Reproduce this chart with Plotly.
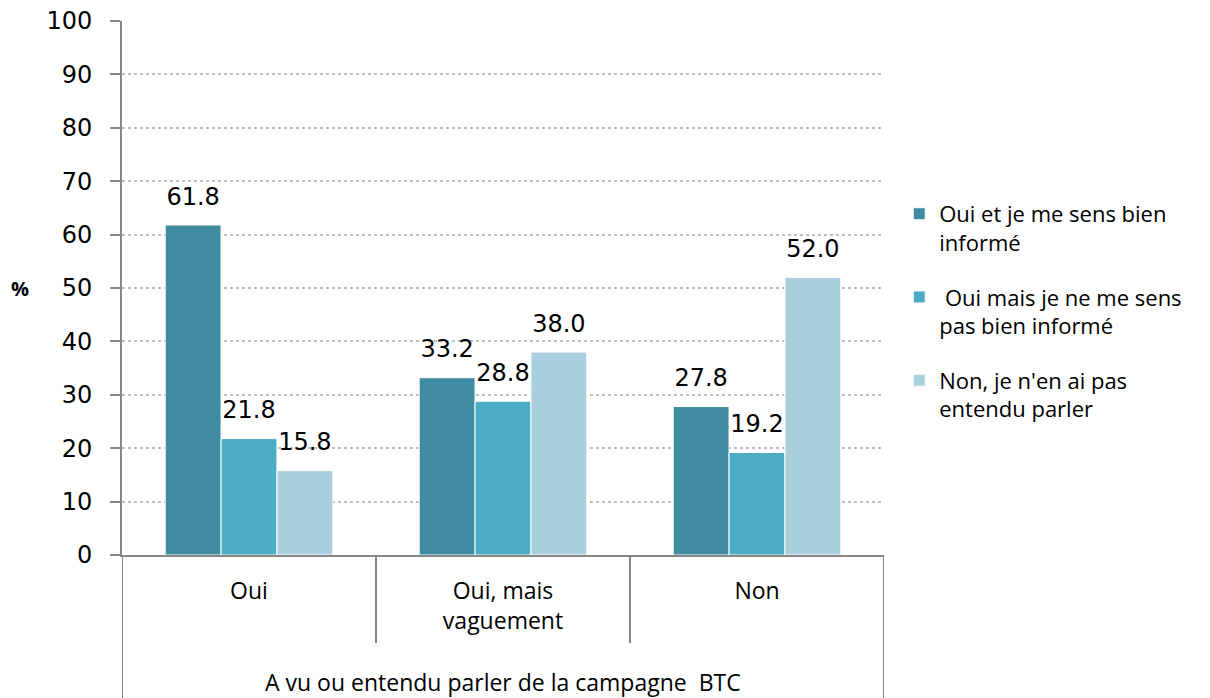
import plotly.graph_objects as go

CATEGORIES = ["Oui", "Oui, mais<br>vaguement", "Non"]
OUTER_LABEL = "A vu ou entendu parler de la campagne  BTC"

SERIES_NAMES = [
    "Oui et je me sens bien<br>informé",
    " Oui mais je ne me sens<br>pas bien informé",
    "Non, je n'en ai pas<br>entendu parler",
]
SERIES_VALUES = [
    [61.8, 33.2, 27.8],
    [21.8, 28.8, 19.2],
    [15.8, 38.0, 52.0],
]
COLORS = ["#3E8BA2", "#4BACC6", "#A9CFDC"]

Y_TICKS = list(range(0, 101, 10))

AXIS_GREY = "#868686"
TEXT_FONT = "Open Sans"
NUM_FONT = "DejaVu Sans"

fig = go.Figure()

for i, (name, values) in enumerate(zip(SERIES_NAMES, SERIES_VALUES)):
    fig.add_trace(go.Bar(
        x=CATEGORIES,
        y=values,
        name=name,
        legendgroup=f"g{i}",
        marker=dict(color=COLORS[i], line=dict(color="white", width=1)),
        text=[f"{v:.1f}" for v in values],
        # small trailing line lifts the label off the bar, like Excel does
        texttemplate="<span style='font-size:24px'>%{text}</span><br> ",
        textposition="outside",
        constraintext="none",
        textfont=dict(family=NUM_FONT, size=11, color="#000000"),
        cliponaxis=False,
    ))

# category dividers, Excel style
line_style = dict(color=AXIS_GREY, width=2)
for x0, bottom in [(-0.5, -0.27), (0.5, -0.165), (1.5, -0.165), (2.5, -0.27)]:
    fig.add_shape(type="line", xref="x", yref="paper",
                  x0=x0, x1=x0, y0=0, y1=bottom, line=line_style)

fig.add_annotation(text=OUTER_LABEL, xref="paper", yref="paper",
                   x=0.5, y=-0.237, showarrow=False, yanchor="middle",
                   font=dict(family=TEXT_FONT, size=23, color="#000000"))

fig.add_annotation(text="<b>%</b>", xref="paper", yref="paper",
                   x=-0.134, y=0.5, showarrow=False,
                   xanchor="center", yanchor="middle",
                   font=dict(family=TEXT_FONT, size=20, color="#000000"))

# page body has an 8px margin, so the figure is sized to fit inside the window
fig.update_layout(
    width=1202,
    height=690,
    margin=dict(l=114, r=326, t=13, b=143),
    plot_bgcolor="white",
    paper_bgcolor="white",
    barmode="group",
    bargap=0.34,
    bargroupgap=0,
    showlegend=True,
    legend=dict(
        x=1.02, y=0.678, xanchor="left", yanchor="top",
        traceorder="grouped", tracegroupgap=23, valign="top",
        font=dict(family=TEXT_FONT, size=22, color="#000000"),
        itemwidth=30,
    ),
)

fig.update_xaxes(
    range=[-0.5, 2.5],
    automargin=False,
    showline=True, linecolor=AXIS_GREY, linewidth=2,
    showgrid=False, ticks="",
    tickfont=dict(family=TEXT_FONT, size=23, color="#000000"),
    ticklabelstandoff=14,
    ticklabeloverflow="allow",
)

fig.update_yaxes(
    range=[0, 100],
    automargin=False,
    tickvals=Y_TICKS,
    showline=True, linecolor=AXIS_GREY, linewidth=2,
    ticks="outside", ticklen=10, tickcolor=AXIS_GREY, tickwidth=2,
    ticklabelstandoff=13,
    ticklabeloverflow="allow",
    tickfont=dict(family=NUM_FONT, size=24, color="#000000"),
    showgrid=True, gridcolor="#BFBFBF", gridwidth=1.5, griddash="dot",
    zeroline=False,
)

fig.write_html("out.html")
